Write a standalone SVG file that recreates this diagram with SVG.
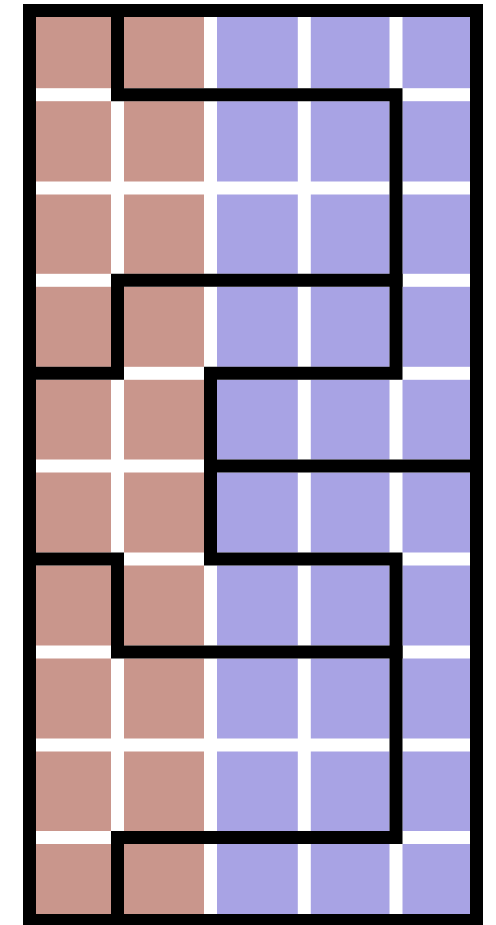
<svg xmlns="http://www.w3.org/2000/svg" width="496" height="925" viewBox="0 0 496 925">
<style>
.b{fill:#c9968c}
.p{fill:#a8a3e4}
.w{fill:none;stroke:#000;stroke-width:13;stroke-linecap:square;stroke-linejoin:miter}
</style>
<rect width="496" height="925" fill="#fff"/>
<g id="cells">
<g id="row0"><rect class="b" x="36" y="17" width="75" height="71.2"/><rect class="b" x="124" y="17" width="80" height="71.2"/><rect class="p" x="217" y="17" width="80.8" height="71.2"/><rect class="p" x="310.8" y="17" width="78.7" height="71.2"/><rect class="p" x="402.5" y="17" width="67.5" height="71.2"/></g>
<g id="row1"><rect class="b" x="36" y="101.2" width="75" height="80.3"/><rect class="b" x="124" y="101.2" width="80" height="80.3"/><rect class="p" x="217" y="101.2" width="80.8" height="80.3"/><rect class="p" x="310.8" y="101.2" width="78.7" height="80.3"/><rect class="p" x="402.5" y="101.2" width="67.5" height="80.3"/></g>
<g id="row2"><rect class="b" x="36" y="194.5" width="75" height="79.3"/><rect class="b" x="124" y="194.5" width="80" height="79.3"/><rect class="p" x="217" y="194.5" width="80.8" height="79.3"/><rect class="p" x="310.8" y="194.5" width="78.7" height="79.3"/><rect class="p" x="402.5" y="194.5" width="67.5" height="79.3"/></g>
<g id="row3"><rect class="b" x="36" y="286.8" width="75" height="80"/><rect class="b" x="124" y="286.8" width="80" height="80"/><rect class="p" x="217" y="286.8" width="80.8" height="80"/><rect class="p" x="310.8" y="286.8" width="78.7" height="80"/><rect class="p" x="402.5" y="286.8" width="67.5" height="80"/></g>
<g id="row4"><rect class="b" x="36" y="379.8" width="75" height="79.7"/><rect class="b" x="124" y="379.8" width="80" height="79.7"/><rect class="p" x="217" y="379.8" width="80.8" height="79.7"/><rect class="p" x="310.8" y="379.8" width="78.7" height="79.7"/><rect class="p" x="402.5" y="379.8" width="67.5" height="79.7"/></g>
<g id="row5"><rect class="b" x="36" y="472.5" width="75" height="80"/><rect class="b" x="124" y="472.5" width="80" height="80"/><rect class="p" x="217" y="472.5" width="80.8" height="80"/><rect class="p" x="310.8" y="472.5" width="78.7" height="80"/><rect class="p" x="402.5" y="472.5" width="67.5" height="80"/></g>
<g id="row6"><rect class="b" x="36" y="565.5" width="75" height="80"/><rect class="b" x="124" y="565.5" width="80" height="80"/><rect class="p" x="217" y="565.5" width="80.8" height="80"/><rect class="p" x="310.8" y="565.5" width="78.7" height="80"/><rect class="p" x="402.5" y="565.5" width="67.5" height="80"/></g>
<g id="row7"><rect class="b" x="36" y="658.5" width="75" height="80"/><rect class="b" x="124" y="658.5" width="80" height="80"/><rect class="p" x="217" y="658.5" width="80.8" height="80"/><rect class="p" x="310.8" y="658.5" width="78.7" height="80"/><rect class="p" x="402.5" y="658.5" width="67.5" height="80"/></g>
<g id="row8"><rect class="b" x="36" y="751.5" width="75" height="79.5"/><rect class="b" x="124" y="751.5" width="80" height="79.5"/><rect class="p" x="217" y="751.5" width="80.8" height="79.5"/><rect class="p" x="310.8" y="751.5" width="78.7" height="79.5"/><rect class="p" x="402.5" y="751.5" width="67.5" height="79.5"/></g>
<g id="row9"><rect class="b" x="36" y="844" width="75" height="70"/><rect class="b" x="124" y="844" width="80" height="70"/><rect class="p" x="217" y="844" width="80.8" height="70"/><rect class="p" x="310.8" y="844" width="78.7" height="70"/><rect class="p" x="402.5" y="844" width="67.5" height="70"/></g>
</g>
<g id="lines">
<rect class="w" x="29.5" y="10.5" width="447" height="910" stroke-linecap="butt"/>
<path class="w" d="M117.5 10.5 V94.7 H396 V373.3 H210.5 V559 H396 V837.5 H117.5 V920.5"/>
<path class="w" d="M396 280.3 H117.5 V373.3 H29.5"/>
<path class="w" d="M210.5 466 H476.5"/>
<path class="w" d="M29.5 559 H117.5 V652 H396"/>
</g>
</svg>
